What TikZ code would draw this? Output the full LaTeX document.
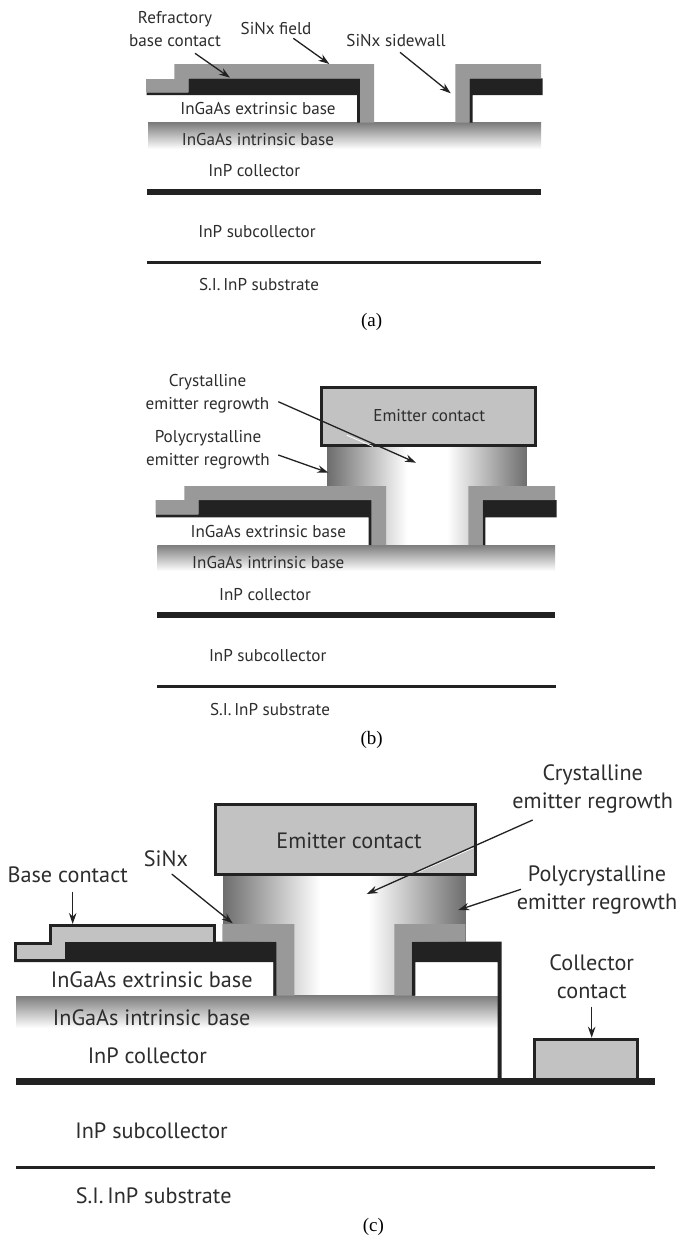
\documentclass[tikz,border=0pt]{standalone}
\usepackage{fontspec}
\setmainfont{Liberation Serif}
\newfontfamily\labelfont{PT Sans}
\usepackage{xcolor}
\usetikzlibrary{arrows.meta,positioning,calc}
\definecolor{metalcolor}{RGB}{34,34,34}
\definecolor{sinxcolor}{RGB}{153,153,153}
\definecolor{contactcolor}{RGB}{194,194,194}
\definecolor{basecolor}{RGB}{125,125,125}
\definecolor{textcolor}{RGB}{45,45,45}
\pgfdeclarehorizontalshading{regrowthfade}{100bp}{rgb(0bp)=(.43,.43,.43); rgb(25bp)=(.43,.43,.43); rgb(45bp)=(1,1,1); rgb(55bp)=(1,1,1); rgb(75bp)=(.43,.43,.43); rgb(100bp)=(.43,.43,.43)}

\begin{document}
\begin{tikzpicture}[
  x=1pt, y=-1pt,
  smalltext/.style={font=\labelfont\fontsize{17.1}{23}\selectfont, text=textcolor, align=center, inner sep=0pt},
  bigtext/.style={font=\labelfont\fontsize{22.2}{27.7}\selectfont, text=textcolor, align=center, inner sep=0pt},
  caption/.style={font=\fontsize{19}{22}\selectfont, inner sep=0pt},
  metal/.style={fill=metalcolor, draw=none},
  sinx/.style={fill=sinxcolor, draw=none},
  contact/.style={fill=contactcolor, draw=metalcolor, line width=3pt, line join=miter},
  intrinsic/.style={top color=basecolor, bottom color=white, draw=none},
  regrowth/.style={shading=regrowthfade, draw=none},
  rule/.style={draw=metalcolor, line width=3pt},
  arrow/.style={-{Stealth[length=11pt,width=7.5pt]}, draw=metalcolor, line width=1.3pt}
]
  \useasboundingbox (0,0) rectangle (679,1237);
  \fill[white] (0,0) rectangle (679,1237);

  % Panel (a) layers
  \shade[intrinsic] (148,122.7) rectangle (541,149);
  \fill[metal] (147.3,189) rectangle (541,195);
  \draw[rule] (147,262) -- (541,262);
  \fill[metal] (146.5,92.3) -- (188.3,92.3) -- (188.3,78.3) -- (360,78.3) -- (360,122.7)
    -- (357,122.7) -- (357,95) -- (146.5,95) -- cycle;
  \fill[metal] (469.3,78.3) -- (542.7,78.3) -- (542.7,95) -- (472.5,95) -- (472.5,122.7)
    -- (469.3,122.7) -- cycle;
  \fill[sinx] (146,79) -- (174.3,79) -- (174.3,64) -- (374,64) -- (374,122.7) -- (360,122.7)
    -- (360,78.3) -- (188.3,78.3) -- (188.3,92.3) -- (146,92.3) -- cycle;
  \fill[sinx] (455.3,64) -- (541,64) -- (541,78.3) -- (469.3,78.3) -- (469.3,122.7)
    -- (455.3,122.7) -- cycle;

  % Panel (a) texts
  \node[smalltext] (extA) at (258,109) {InGaAs extrinsic base};
  \node[smalltext] (intA) at (258,139.3) {InGaAs intrinsic base};
  \node[smalltext] (colA) at (254.3,171) {InP collector};
  \node[smalltext] (subA) at (257,232) {InP subcollector};
  \node[smalltext] (sisA) at (259,285) {S.I.\,InP substrate};
  \node[caption] (capA) at (371.7,321.5) {(a)};
  \node[smalltext] (refA) at (175,29.5) {Refractory\\base contact};
  \node[smalltext] (fieldA) at (276,29) {SiNx field};
  \node[smalltext] (sideA) at (396,41) {SiNx sidewall};

  % Panel (a) arrows
  \coordinate (refAs) at (195,53.3);
  \coordinate (refAe) at (230,77.7);
  \coordinate (fieldAs) at (293.3,38.3);
  \coordinate (fieldAe) at (329.3,64);
  \coordinate (sideAs) at (400,52.3);
  \coordinate (sideAe) at (450.7,93.3);
  \draw[arrow] (refAs) -- (refAe);
  \draw[arrow] (fieldAs) -- (fieldAe);
  \draw[arrow] (sideAs) -- (sideAe);

  % Panel (b) layers
  \shade[regrowth] (327.7,446) rectangle (526.7,545);
  \shade[intrinsic] (157.3,545) rectangle (555,571);
  \fill[metal] (156.7,612.3) rectangle (555,618.3);
  \draw[rule] (157,686) -- (555.5,686);
  \fill[white] (156,517.3) rectangle (368.7,545);
  \fill[white] (485.3,517.3) rectangle (555,545);
  \fill[metal] (156,514.3) -- (198.3,514.3) -- (198.3,500) -- (371.7,500) -- (371.7,545)
    -- (368.7,545) -- (368.7,517.3) -- (156,517.3) -- cycle;
  \fill[metal] (482.7,500) -- (556.7,500) -- (556.7,517.3) -- (485.3,517.3) -- (485.3,545)
    -- (482.7,545) -- cycle;
  \fill[sinx] (155.7,500) -- (184.3,500) -- (184.3,486) -- (386,486) -- (386,545) -- (371.7,545)
    -- (371.7,500) -- (198.3,500) -- (198.3,514.3) -- (155.7,514.3) -- cycle;
  \fill[sinx] (468.3,486) -- (555,486) -- (555,500) -- (482.7,500) -- (482.7,545)
    -- (468.3,545) -- cycle;
  \draw[contact] (321,387.7) rectangle (535,445);

  % Panel (b) texts
  \node[smalltext] (emiB) at (429.3,416) {Emitter contact};
  \node[smalltext] (extB) at (268.3,531.7) {InGaAs extrinsic base};
  \node[smalltext] (intB) at (268.3,562.3) {InGaAs intrinsic base};
  \node[smalltext] (colB) at (265,594.3) {InP collector};
  \node[smalltext] (subB) at (267.7,655.7) {InP subcollector};
  \node[smalltext] (sisB) at (270,709.3) {S.I.\,InP substrate};
  \node[caption] (capB) at (371.7,740) {(b)};
  \node[smalltext] (cryB) at (207.5,394) {Crystalline\\emitter regrowth};
  \node[smalltext] (polB) at (208,450) {Polycrystalline\\emitter regrowth};

  % Panel (b) arrows
  \coordinate (cryBs) at (278.3,401.7);
  \coordinate (cryBe) at (416,462.7);
  \coordinate (polBs) at (278.3,455);
  \coordinate (polBe) at (328.3,472.7);
  \draw[white, line width=0.8pt] (346.7,435.2) -- (373,446.5);
  \draw[arrow] (cryBs) -- (cryBe);
  \draw[arrow] (polBs) -- (polBe);

  % Panel (c) layers
  \shade[regrowth] (223.3,875.7) rectangle (465.3,995.7);
  \shade[intrinsic] (16.7,995.7) rectangle (497.7,1028);
  \fill[metal] (15.7,1077.7) rectangle (655,1085);
  \draw[rule] (16,1167.3) -- (655,1167.3);
  \fill[white] (14.3,962) rectangle (273.3,995.7);
  \fill[white] (415.3,962) rectangle (497.7,995.7);
  \fill[metal] (14.3,958.7) -- (66.7,958.7) -- (66.7,941.7) -- (276.7,941.7) -- (276.7,995.7)
    -- (273.3,995.7) -- (273.3,962) -- (14.3,962) -- cycle;
  \fill[metal] (411.7,941.7) -- (501.7,941.7) -- (501.7,1078) -- (497.7,1078) -- (497.7,962)
    -- (415.3,962) -- (415.3,995.7) -- (411.7,995.7) -- cycle;
  \fill[sinx] (222.3,924) -- (294.3,924) -- (294.3,995.7) -- (276.7,995.7) -- (276.7,941.7)
    -- (222.3,941.7) -- cycle;
  \fill[sinx] (394.3,924) -- (465.3,924) -- (465.3,941.7) -- (411.7,941.7) -- (411.7,995.7)
    -- (394.3,995.7) -- cycle;
  \draw[contact] (15.8,960) -- (15.8,943.2) -- (50.8,943.2) -- (50.8,925.5) -- (214.5,925.5)
    -- (214.5,943) -- (66.7,943) -- (66.7,960) -- cycle;
  \draw[contact] (215.8,804.8) rectangle (475.2,874.2);
  \draw[contact] (534.8,1078) -- (534.8,1039.2) -- (637.8,1039.2) -- (637.8,1078);

  % Panel (c) texts
  \node[bigtext] (emiC) at (349,841) {Emitter contact};
  \node[bigtext] (extC) at (151.7,980) {InGaAs extrinsic base};
  \node[bigtext] (intC) at (151.7,1017.3) {InGaAs intrinsic base};
  \node[bigtext] (colC) at (147.3,1055.7) {InP collector};
  \node[bigtext] (subC) at (151.5,1130.7) {InP subcollector};
  \node[bigtext] (sisC) at (153.7,1195.3) {S.I.\,InP substrate};
  \node[caption] (capC) at (373.4,1227) {(c)};
  \node[bigtext] (sinC) at (166,859) {SiNx};
  \node[bigtext] (basC) at (67.7,875) {Base contact};
  \node[bigtext] (cryC) at (592.7,789) {Crystalline\\emitter regrowth};
  \node[bigtext] (polC) at (597,890) {Polycrystalline\\emitter regrowth};
  \node[bigtext] (ccoC) at (591.7,976.5) {Collector\\contact};

  % Panel (c) arrows
  \coordinate (basCs) at (72.7,891.7);
  \coordinate (basCe) at (72.7,924);
  \coordinate (sinCs) at (171.7,874);
  \coordinate (sinCe) at (232.7,923.3);
  \coordinate (cryCs) at (532.7,820);
  \coordinate (cryCe) at (366.7,894);
  \coordinate (polCs) at (521,889.3);
  \coordinate (polCe) at (458.3,910);
  \coordinate (ccoCs) at (591.7,1006.7);
  \coordinate (ccoCe) at (591.7,1037.7);
  \draw[white, line width=0.8pt] (418,872.2) -- (473,848);
  \draw[arrow] (basCs) -- (basCe);
  \draw[arrow] (sinCs) -- (sinCe);
  \draw[arrow] (cryCs) -- (cryCe);
  \draw[arrow] (polCs) -- (polCe);
  \draw[arrow] (ccoCs) -- (ccoCe);
\end{tikzpicture}
\end{document}
